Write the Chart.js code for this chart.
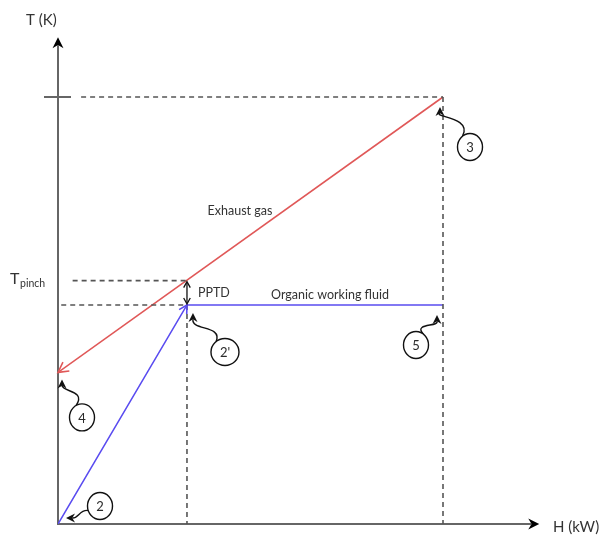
<!DOCTYPE html>
<html>
<head>
<meta charset="utf-8">
<title>T-H diagram</title>
<script src="https://cdn.jsdelivr.net/npm/chart.js@4.4.1/dist/chart.umd.min.js"></script>
<style>
  html, body { margin: 0; padding: 0; background: #fff; }
  #wrap { width: 611px; height: 540px; }
</style>
</head>
<body>
<div id="wrap"><canvas id="th"></canvas></div>
<script>
// state points on the T-H plane (arbitrary units)
const pointNames = ['2', "2'", '3', '4', '5'];
const pointH = [0, 33.5, 100, 0, 100];
const pointT = [0, 51.3, 100, 35.5, 51.3];
const tPinch = 57;

// exhaust gas runs 3 -> 4, working fluid 2 -> 2' -> 5
const gasH = [100, 0];
const gasT = [100, 35.5];
const fluidH = [0, 33.5, 100];
const fluidT = [0, 51.3, 51.3];

const axisMaxH = 125;
const axisMaxT = 114;

const pt = (h, t) => ({ x: h, y: t });
const gasData = gasH.map((h, i) => pt(h, gasT[i]));
const fluidData = fluidH.map((h, i) => pt(h, fluidT[i]));

const dashColor = '#555';
const guide = (data, extra = {}) => ({
    data,
    borderColor: dashColor,
    borderWidth: 1.6,
    borderDash: [5, 4],
    pointRadius: 0,
    showLine: true,
    ...extra
});

const h3 = pointH[2], t3 = pointT[2];
const h2p = pointH[1], t2p = pointT[1];

const datasets = [
    guide([pt(6, t3), pt(h3, t3)]),
    guide([pt(h3, t3), pt(h3, 0)]),
    guide([pt(3.8, tPinch), pt(gasH[1] + (gasH[0] - gasH[1]) * (tPinch - gasT[1]) / (gasT[0] - gasT[1]), tPinch)]),
    guide([pt(-1.5, t2p), pt(h2p, t2p)]),
    guide([pt(h2p, t2p), pt(h2p, 0)]),
    {
        data: gasData,
        borderColor: '#e05858',
        borderWidth: 1.6,
        pointRadius: 0,
        showLine: true
    },
    {
        data: fluidData,
        borderColor: '#5a4cf0',
        borderWidth: 1.6,
        pointRadius: 0,
        showLine: true
    }
];

// callout bubbles: offset of the bubble centre and of the arrow tip from the state point, in px
const callouts = {
    '3':  { cx: 27, cy: 50, tx: -3, ty: 10, c1: [-10, 20], c2: [30, 20], dir: 'up' },
    '4':  { cx: 24, cy: 45, tx: 4, ty: 7, c1: [6, 20], c2: [28, 18], dir: 'up' },
    "2'": { cx: 38, cy: 47, tx: 6, ty: 8, c1: [4, 26], c2: [36, 20], dir: 'up' },
    '5':  { cx: -27, cy: 40, tx: -6, ty: 10, c1: [-4, 22], c2: [-30, 18], dir: 'up' },
    '2':  { cx: 42, cy: -18, tx: 8, ty: -6, c1: [20, -5], c2: [22, -15], dir: 'left' }
};

function arrowHead(ctx, x, y, angle, len, open) {
    ctx.save();
    ctx.translate(x, y);
    ctx.rotate(angle);
    ctx.beginPath();
    if (open) {
        ctx.moveTo(-len, -len * 0.55);
        ctx.lineTo(0, 0);
        ctx.lineTo(-len, len * 0.55);
        ctx.stroke();
    } else {
        ctx.moveTo(0, 0);
        ctx.lineTo(-len, -len * 0.5);
        ctx.lineTo(-len * 0.7, 0);
        ctx.lineTo(-len, len * 0.5);
        ctx.closePath();
        ctx.fill();
    }
    ctx.restore();
}

const diagramPlugin = {
    id: 'diagram',
    beforeDatasetsDraw(chart) {
        const { ctx, scales: { x, y } } = chart;
        const x0 = x.getPixelForValue(0), y0 = y.getPixelForValue(0);
        const xEnd = x.getPixelForValue(axisMaxH), yEnd = y.getPixelForValue(axisMaxT);
        ctx.save();
        ctx.strokeStyle = '#666';
        ctx.fillStyle = '#000';
        ctx.lineWidth = 2;
        ctx.beginPath();
        ctx.moveTo(x0, y0);
        ctx.lineTo(x0, yEnd + 8);
        ctx.moveTo(x0 - 1, y0);
        ctx.lineTo(xEnd - 8, y0);
        // tick at T3
        const yt3 = y.getPixelForValue(t3);
        ctx.moveTo(x0 - 14, yt3);
        ctx.lineTo(x0 + 13, yt3);
        ctx.stroke();
        arrowHead(ctx, x0, yEnd, -Math.PI / 2, 11, false);
        arrowHead(ctx, xEnd, y0, 0, 11, false);
        ctx.restore();
    },
    afterDatasetsDraw(chart) {
        const { ctx, scales: { x, y } } = chart;
        ctx.save();
        ctx.lineWidth = 1.6;

        // arrow ends on the gas line (at 4) and the fluid rise (at 2')
        ctx.strokeStyle = '#e05858';
        const ga = Math.atan2(y.getPixelForValue(gasT[1]) - y.getPixelForValue(gasT[0]),
            x.getPixelForValue(gasH[1]) - x.getPixelForValue(gasH[0]));
        arrowHead(ctx, x.getPixelForValue(gasH[1]), y.getPixelForValue(gasT[1]), ga, 10, true);
        ctx.strokeStyle = '#5a4cf0';
        const fa = Math.atan2(y.getPixelForValue(fluidT[1]) - y.getPixelForValue(fluidT[0]),
            x.getPixelForValue(fluidH[1]) - x.getPixelForValue(fluidH[0]));
        arrowHead(ctx, x.getPixelForValue(fluidH[1]), y.getPixelForValue(fluidT[1]), fa, 8, true);

        // PPTD double arrow
        const px = x.getPixelForValue(h2p);
        const pTop = y.getPixelForValue(tPinch), pBot = y.getPixelForValue(t2p);
        ctx.strokeStyle = '#111';
        ctx.lineWidth = 1.3;
        ctx.beginPath();
        ctx.moveTo(px, pTop + 2);
        ctx.lineTo(px, pBot - 2);
        ctx.stroke();
        arrowHead(ctx, px, pTop + 1, -Math.PI / 2, 6, true);
        arrowHead(ctx, px, pBot - 1, Math.PI / 2, 6, true);

        // labels
        ctx.fillStyle = '#333';
        ctx.textBaseline = 'alphabetic';
        ctx.font = '15px Lato, sans-serif';
        ctx.textAlign = 'left';
        ctx.fillText('T (K)', 26, 25);
        ctx.fillText('H (kW)', 553, 532);
        ctx.font = '16px Lato, sans-serif';
        ctx.fillText('T', 10, 284);
        ctx.font = '10.5px Lato, sans-serif';
        ctx.fillText('pinch', 20, 287);
        ctx.font = '12.5px Lato, sans-serif';
        ctx.fillText('PPTD', px + 11, pBot - 8);
        ctx.textAlign = 'center';
        ctx.fillText('Exhaust gas', 240, 215);
        ctx.fillText('Organic working fluid', 330, 299);

        // numbered callouts
        pointNames.forEach((name, i) => {
            const c = callouts[name];
            const bx = x.getPixelForValue(pointH[i]), by = y.getPixelForValue(pointT[i]);
            const cx = bx + c.cx, cy = by + c.cy;
            const tx = bx + c.tx, ty = by + c.ty;
            ctx.strokeStyle = '#111';
            ctx.fillStyle = '#111';
            ctx.lineWidth = 1.4;
            const rx = name === "2'" ? 14 : 12.5, ry = 13.5;
            // connector leaves the bubble towards the tip
            const ang = Math.atan2(ty - cy, tx - cx);
            const sx = cx + Math.cos(ang) * rx, sy = cy + Math.sin(ang) * ry;
            const arrowLen = 9;
            const ex = c.dir === 'up' ? tx : tx + arrowLen * 0.7;
            const ey = c.dir === 'up' ? ty + arrowLen * 0.7 : ty;
            ctx.beginPath();
            ctx.moveTo(sx, sy);
            ctx.bezierCurveTo(bx + c.c2[0], by + c.c2[1], bx + c.c1[0], by + c.c1[1], ex, ey);
            ctx.stroke();
            arrowHead(ctx, tx, ty, c.dir === 'up' ? -Math.PI / 2 : Math.PI, arrowLen, false);
            ctx.beginPath();
            ctx.fillStyle = '#fff';
            ctx.ellipse(cx, cy, rx, ry, 0, 0, Math.PI * 2);
            ctx.fill();
            ctx.stroke();
            ctx.fillStyle = '#2a2a2a';
            ctx.font = '13px Lato, sans-serif';
            ctx.textAlign = 'center';
            ctx.textBaseline = 'middle';
            ctx.fillText(name, cx, cy + 1);
            ctx.textBaseline = 'alphabetic';
        });
        ctx.restore();
    }
};

new Chart(document.getElementById('th'), {
    type: 'scatter',
    data: { datasets },
    options: {
        responsive: true,
        maintainAspectRatio: false,
        animation: false,
        layout: { padding: { left: 58, right: 52.5, top: 11.6, bottom: 16 } },
        plugins: { legend: { display: false }, tooltip: { enabled: false } },
        scales: {
            x: { type: 'linear', min: 0, max: 130, display: false },
            y: { type: 'linear', min: 0, max: 120, display: false }
        }
    },
    plugins: [diagramPlugin]
});
</script>
</body>
</html>
